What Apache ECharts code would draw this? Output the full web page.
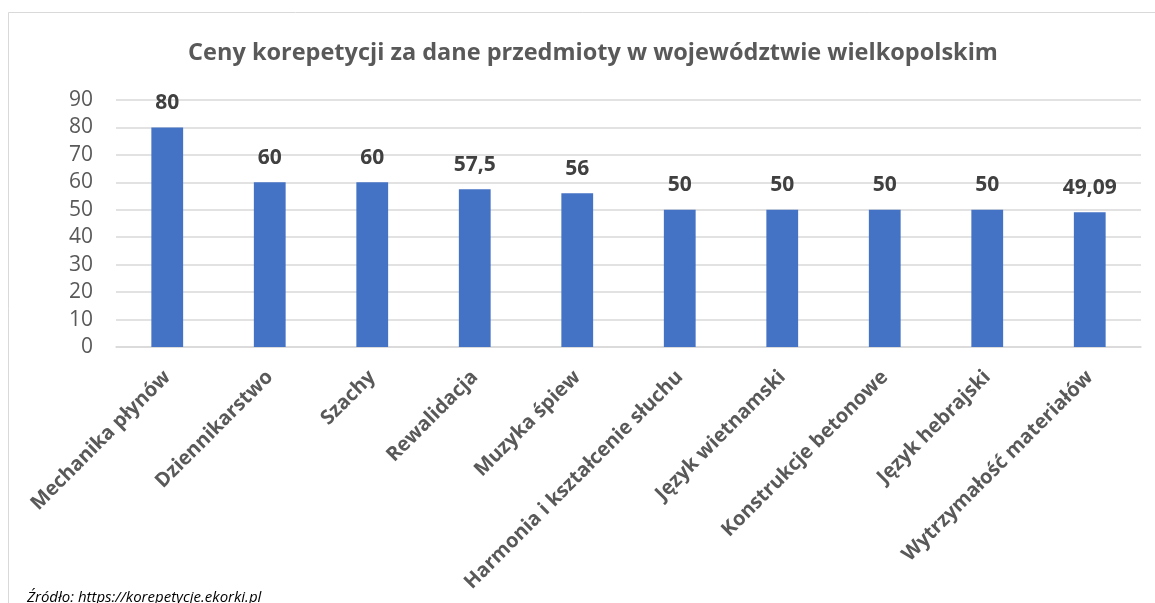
<!DOCTYPE html>
<html>
<head>
<meta charset="utf-8">
<script src="https://cdn.jsdelivr.net/npm/echarts@6/dist/echarts.min.js"></script>
<style>
  html, body { margin: 0; padding: 0; background: #fff; }
  #main { width: 1155px; height: 603px; }
</style>
</head>
<body>
<div id="main"></div>
<script>
// dane z wykresu
var categories = ['Mechanika płynów', 'Dziennikarstwo', 'Szachy', 'Rewalidacja', 'Muzyka śpiew',
  'Harmonia i kształcenie słuchu', 'Język wietnamski', 'Konstrukcje betonowe', 'Język hebrajski',
  'Wytrzymałość materiałów'];
var prices = [80, 60, 60, 57.5, 56, 50, 50, 50, 50, 49.09];
var yTicks = [0, 10, 20, 30, 40, 50, 60, 70, 80, 90];

var chart = echarts.init(document.getElementById('main'), null, { renderer: 'canvas' });

var font = '"Open Sans", "Noto Sans", sans-serif';

var option = {
  backgroundColor: '#ffffff',
  animation: false,
  textStyle: { fontFamily: font },
  title: {
    text: 'Ceny korepetycji za dane przedmioty w województwie wielkopolskim',
    left: 588,
    textAlign: 'center',
    top: 36,
    textStyle: { fontFamily: font, fontSize: 23.5, fontWeight: 'bold', color: '#595959' }
  },
  graphic: [
    {
      type: 'rect',
      shape: { x: 8.5, y: 12.5, width: 1160, height: 620 },
      style: { fill: 'none', stroke: '#d9d9d9', lineWidth: 1 },
      silent: true
    },
    {
      type: 'text',
      left: 27,
      top: 590,
      style: {
        text: 'Źródło: https://korepetycje.ekorki.pl',
        font: 'italic 15px ' + font,
        fill: '#000000'
      }
    }
  ],
  grid: {
    left: 116,
    right: 14,
    top: 100,
    bottom: 256,
    containLabel: false
  },
  xAxis: {
    type: 'category',
    data: categories,
    axisTick: { show: false },
    axisLine: { lineStyle: { color: '#d9d9d9', width: 1.5 } },
    axisLabel: {
      interval: 0,
      rotate: 45,
      margin: 27,
      fontSize: 20,
      fontWeight: 'bold',
      color: '#595959',
      fontFamily: font
    }
  },
  yAxis: {
    type: 'value',
    min: 0,
    max: yTicks[yTicks.length - 1],
    interval: 10,
    axisLine: { show: false },
    axisTick: { show: false },
    splitLine: { lineStyle: { color: '#d9d9d9', width: 1.5 } },
    axisLabel: {
      fontSize: 21,
      color: '#595959',
      margin: 23,
      fontFamily: font
    }
  },
  series: [
    {
      type: 'bar',
      data: prices,
      barWidth: '31%',
      itemStyle: { color: '#4472c4' },
      label: {
        show: true,
        position: 'top',
        distance: 14,
        fontSize: 21,
        fontWeight: 'bold',
        color: '#404040',
        fontFamily: font,
        formatter: function (p) {
          return String(p.value).replace('.', ',');
        }
      }
    }
  ]
};

chart.setOption(option);
</script>
</body>
</html>
